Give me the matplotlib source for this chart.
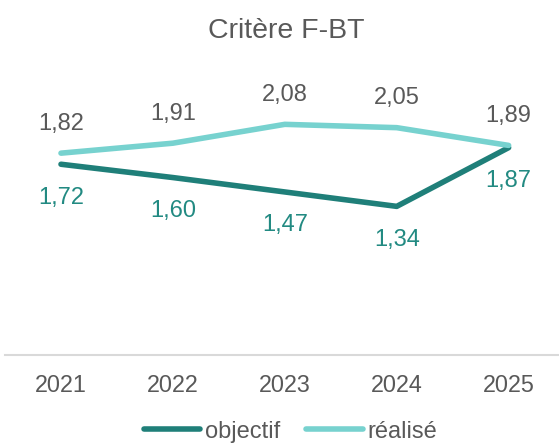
import matplotlib.pyplot as plt
from matplotlib import rc

rc('font', **{'family': 'sans-serif', 'sans-serif': ['Liberation Sans', 'DejaVu Sans'], 'size': 14})

years = ['2021', '2022', '2023', '2024', '2025']
objectif = [1.72, 1.60, 1.47, 1.34, 1.87]
realise = [1.82, 1.91, 2.08, 2.05, 1.89]

dark = '#1F7F79'
light = '#77D2CF'
grey = '#595959'

fig = plt.figure(figsize=(5.59, 4.47), dpi=100)
ax = fig.add_axes([0.009, 0.206, 0.991, 0.62])

x = range(len(years))
ax.plot(x, objectif, color=dark, lw=4, solid_capstyle='round', label='objectif')
ax.plot(x, realise, color=light, lw=4, solid_capstyle='round', label='réalisé')

for i in x:
    ax.annotate(f'{realise[i]:.2f}'.replace('.', ','), (i, realise[i]), xytext=(0, 21),
                textcoords='offset points', ha='center', va='center', color=grey, fontsize=17)
    ax.annotate(f'{objectif[i]:.2f}'.replace('.', ','), (i, objectif[i]), xytext=(0, -24),
                textcoords='offset points', ha='center', va='center', color='#228A82', fontsize=17)

ax.set_xlim(-0.5, 4.45)
ax.set_ylim(0, 2.5)
ax.set_xticks(list(x))
ax.set_xticklabels(years, color=grey, fontsize=16.8)
ax.tick_params(axis='x', length=0, pad=14)
ax.set_yticks([])
for s in ['top', 'right', 'left']:
    ax.spines[s].set_visible(False)
ax.spines['bottom'].set_color('#D9D9D9')
ax.spines['bottom'].set_linewidth(1.5)

fig.text(0.512, 0.93, 'Critère F-BT', ha='center', va='center', color=grey, fontsize=20.5)

fig.legend(loc='lower center', bbox_to_anchor=(0.52, -0.038), ncol=2, frameon=False,
           handlelength=2.4, handletextpad=0.2, columnspacing=1.1, fontsize=17,
           labelcolor=grey)

fig.savefig('out.png', dpi=100)
